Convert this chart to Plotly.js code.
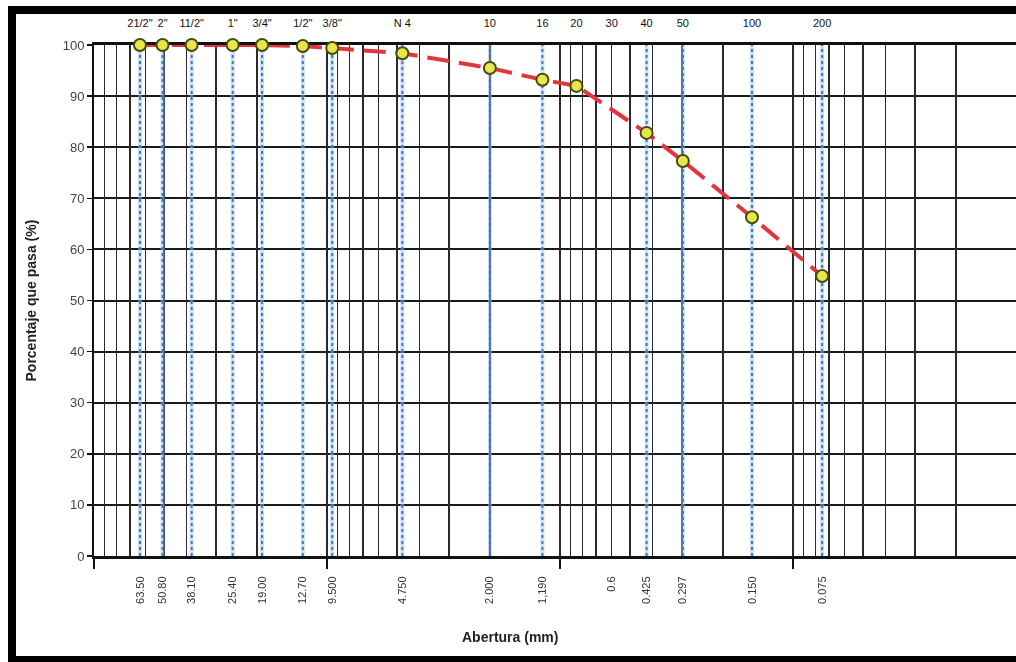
<!DOCTYPE html>
<html>
<head>
<meta charset="utf-8">
<script src="https://cdn.plot.ly/plotly-3.0.1.min.js"></script>
<style>
  html, body { margin: 0; padding: 0; background: #fff; }
  #chart { position: absolute; left: 0; top: 0; width: 1016px; height: 662px; }
  #frame { position: absolute; left: 8px; top: 6px; width: 1008px; height: 642px;
           border-top: 8px solid #000; border-left: 8px solid #000; border-bottom: 7px solid #000;
           pointer-events: none; box-sizing: content-box; }
</style>
</head>
<body>
<div id="chart"></div>
<div id="frame"></div>
<script>
// Sieve openings (mm) and percentage passing
const sizesMm   = [63.5, 50.8, 38.1, 25.4, 19.0, 12.7, 9.5, 4.75, 2.0, 1.19, 0.85, 0.425, 0.297, 0.15, 0.075];
const passing   = [100, 100, 100, 100, 100, 99.8, 99.4, 98.4, 95.5, 93.2, 92.0, 82.8, 77.3, 66.3, 54.8];

// Top labels (sieve designations)
const topSizes  = [63.5, 50.8, 38.1, 25.4, 19.0, 12.7, 9.5, 4.75, 2.0, 1.19, 0.85, 0.6, 0.425, 0.297, 0.15, 0.075];
const topLabels = ['21/2"', '2"', '11/2"', '1"', '3/4"', '1/2"', '3/8"', 'N 4', '10', '16', '20', '30', '40', '50', '100', '200'];

// Bottom labels (openings)
const bottomSizes  = [63.5, 50.8, 38.1, 25.4, 19.0, 12.7, 9.5, 4.75, 2.0, 1.19, 0.6, 0.425, 0.297, 0.15, 0.075];
const bottomLabels = ['63.50', '50.80', '38.10', '25.40', '19.00', '12.70', '9.500', '4.750', '2.000', '1,190', '0.6', '0.425', '0.297', '0.150', '0.075'];

// Sieves with blue dotted guide lines
const guideSizes = [63.5, 50.8, 38.1, 25.4, 19.0, 12.7, 9.5, 4.75, 2.0, 1.19, 0.425, 0.297, 0.15, 0.075];

const yTicks = [0, 10, 20, 30, 40, 50, 60, 70, 80, 90, 100];

// log grid values (1..9 per decade)
const gridVals = [];
[100, 10, 1, 0.1, 0.01].forEach(function (d) {
  for (let k = 1; k <= 9; k++) gridVals.push(+(d / 10 * k).toPrecision(3));
});
const decades = [100, 10, 1, 0.1];

const xRange = [2, -1.957];
const FONT = 'Liberation Sans Narrow, Arial Narrow, Liberation Sans, Arial, sans-serif';

const gx = [], gy = [];
guideSizes.forEach(function (s) { gx.push(s, s, null); gy.push(0, 100, null); });

function anchorTrace(axis, xs) {
  return {
    x: xs, y: xs.map(function () { return 50; }), xaxis: axis, yaxis: 'y',
    mode: 'markers', marker: { opacity: 0, size: 1 }, hoverinfo: 'skip', showlegend: false
  };
}

const traces = [
  anchorTrace('x4', gridVals),
  anchorTrace('x3', decades),
  anchorTrace('x2', topSizes),
  {
    x: gx, y: gy, mode: 'lines', xaxis: 'x', yaxis: 'y',
    line: { color: '#9cc0ea', width: 4 },
    opacity: 0.5, hoverinfo: 'skip', showlegend: false
  },
  {
    x: gx, y: gy, mode: 'lines', xaxis: 'x', yaxis: 'y',
    line: { color: '#3f78c4', width: 2, dash: 'dot' },
    hoverinfo: 'skip', showlegend: false
  },
  {
    x: sizesMm, y: passing, mode: 'lines+markers', xaxis: 'x', yaxis: 'y',
    line: { color: '#e2363c', width: 4, dash: '22px,10px' },
    marker: { size: 12, color: '#e6e84a', line: { color: '#4b4a12', width: 2 } },
    cliponaxis: false, showlegend: false
  }
];

const commonX = { type: 'log', range: xRange, autorange: false, fixedrange: true };

const layout = {
  width: 1016, height: 662,
  margin: { l: 94, r: 0, t: 45, b: 106 },
  paper_bgcolor: '#ffffff', plot_bgcolor: '#ffffff',
  font: { family: FONT, color: '#222' },
  showlegend: false,
  xaxis: Object.assign({}, commonX, {
    side: 'bottom', anchor: 'y',
    tickmode: 'array', tickvals: bottomSizes, ticktext: bottomLabels,
    tickangle: -90, ticks: '', ticklabelstandoff: 13,
    tickfont: { family: FONT, size: 11, color: '#333' },
    showgrid: false, zeroline: false,
    showline: true, linecolor: '#111', linewidth: 3
  }),
  xaxis2: Object.assign({}, commonX, {
    overlaying: 'x', side: 'top', anchor: 'y',
    tickmode: 'array', tickvals: topSizes, ticktext: topLabels,
    ticks: '', ticklabelstandoff: 11,
    tickfont: { family: FONT, size: 11, color: '#111' },
    showgrid: false, zeroline: false,
    showline: true, linecolor: '#111', linewidth: 3, layer: 'below traces'
  }),
  xaxis3: Object.assign({}, commonX, {
    overlaying: 'x', side: 'bottom', anchor: 'y',
    tickmode: 'array', tickvals: decades, ticks: 'outside', ticklen: 12, tickwidth: 2, tickcolor: '#111',
    showticklabels: false, showgrid: false, zeroline: false, showline: false
  }),
  xaxis4: Object.assign({}, commonX, {
    overlaying: 'x', side: 'bottom', anchor: 'y',
    tickmode: 'array', tickvals: gridVals, ticks: '', showticklabels: false,
    showgrid: true, gridcolor: '#2a2a2a', gridwidth: 1.5, zeroline: false, showline: false
  }),
  yaxis: {
    range: [0, 100], autorange: false, fixedrange: true,
    tickmode: 'array', tickvals: yTicks,
    ticks: 'outside', ticklen: 5, tickwidth: 1.5, tickcolor: '#111',
    tickfont: { family: FONT, size: 13, color: '#444' },
    showgrid: true, gridcolor: '#1a1a1a', gridwidth: 2,
    zeroline: false, showline: true, linecolor: '#111', linewidth: 2
  },
  annotations: [
    {
      text: '<b>Porcentaje que pasa (%)</b>', xref: 'paper', yref: 'paper',
      x: (30 - 94) / 922, y: 0.5, xanchor: 'center', yanchor: 'middle',
      textangle: -90, showarrow: false, font: { family: FONT, size: 14, color: '#222' }
    },
    {
      text: '<b>Abertura (mm)</b>', xref: 'paper', yref: 'paper',
      x: (510 - 94) / 922, y: (556 - 637) / 511, xanchor: 'center', yanchor: 'middle',
      showarrow: false, font: { family: FONT, size: 14, color: '#222' }
    }
  ]
};

Plotly.newPlot('chart', traces, layout, { displayModeBar: false, staticPlot: true });
</script>
</body>
</html>
